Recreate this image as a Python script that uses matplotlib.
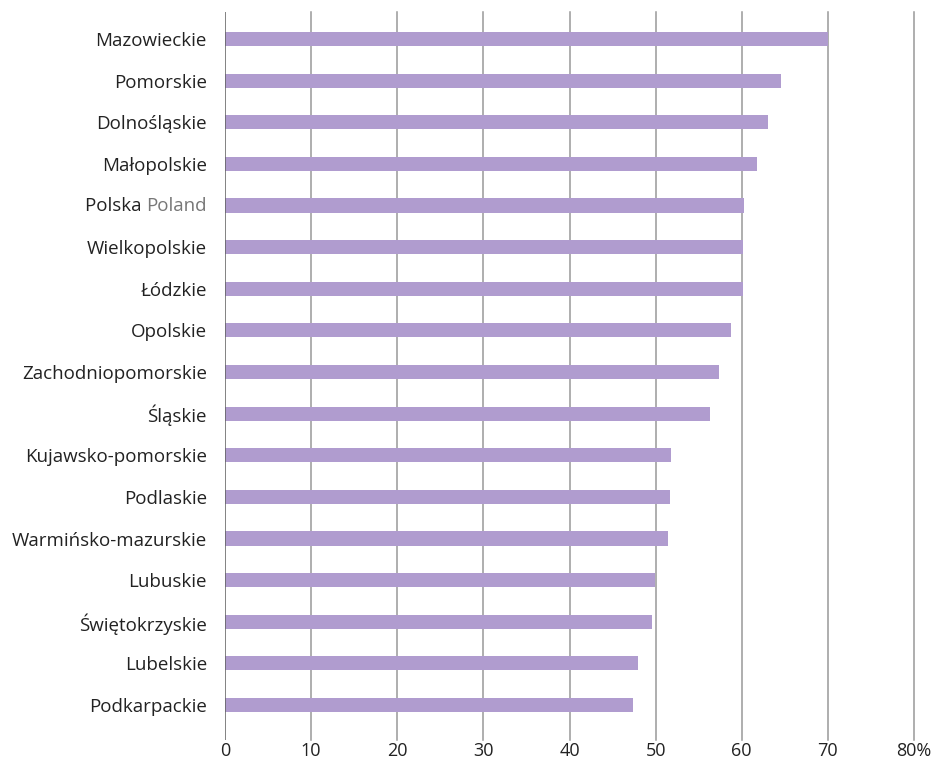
import matplotlib.pyplot as plt

plt.rcParams['font.family'] = ['Open Sans', 'DejaVu Sans']

regions = ['Mazowieckie', 'Pomorskie', 'Dolnośląskie', 'Małopolskie', 'Polska',
           'Wielkopolskie', 'Łódzkie', 'Opolskie', 'Zachodniopomorskie', 'Śląskie',
           'Kujawsko-pomorskie', 'Podlaskie', 'Warmińsko-mazurskie', 'Lubuskie',
           'Świętokrzyskie', 'Lubelskie', 'Podkarpackie']
values = [70.0, 64.5, 63.1, 61.8, 60.3, 60.2, 60.1, 58.7, 57.4, 56.3,
          51.8, 51.7, 51.4, 49.9, 49.6, 48.0, 47.4]
xticks = [0, 10, 20, 30, 40, 50, 60, 70, 80]
xticklabels = ['0', '10', '20', '30', '40', '50', '60', '70', '80%']

fig = plt.figure(figsize=(9.44, 7.6), dpi=100)
ax = fig.add_axes([225 / 944, 20 / 760, (914 - 225) / 944, (740 - 12) / 760])

ypos = list(range(len(regions)))
ax.barh(ypos, values, height=0.34, color='#b09ccf', zorder=3)

ax.set_xlim(0, 80)
ax.set_ylim(len(regions) - 1 + 0.84, -0.65)

for x in xticks[1:]:
    ax.axvline(x, color='#999999', lw=1.1, zorder=1, clip_on=False)
ax.axvline(0, color='#606060', lw=1.1, zorder=4)

for s in ax.spines.values():
    s.set_visible(False)

fs = 13.5
ax.set_xticks(xticks)
ax.set_xticklabels(xticklabels, fontsize=13, color='#222222')
ax.tick_params(axis='x', length=0, pad=1.5)

labels = [r if r != 'Polska' else '' for r in regions]
ax.set_yticks(ypos)
ax.set_yticklabels(labels, fontsize=fs, color='#222222')
ax.tick_params(axis='y', length=0, pad=13)

# two-coloured label for Poland
pi = regions.index('Polska')
t2 = ax.annotate('Poland', xy=(0, pi), xycoords=('axes fraction', 'data'),
                 xytext=(-13, 0), textcoords='offset points',
                 ha='right', va='center', fontsize=fs, color='#777777')
fig.canvas.draw()
bb = t2.get_window_extent()
w = bb.width * 72 / fig.dpi
ax.annotate('Polska ', xy=(0, pi), xycoords=('axes fraction', 'data'),
            xytext=(-13 - w, 0), textcoords='offset points',
            ha='right', va='center', fontsize=fs, color='#222222')

fig.savefig('out.png', dpi=100)
